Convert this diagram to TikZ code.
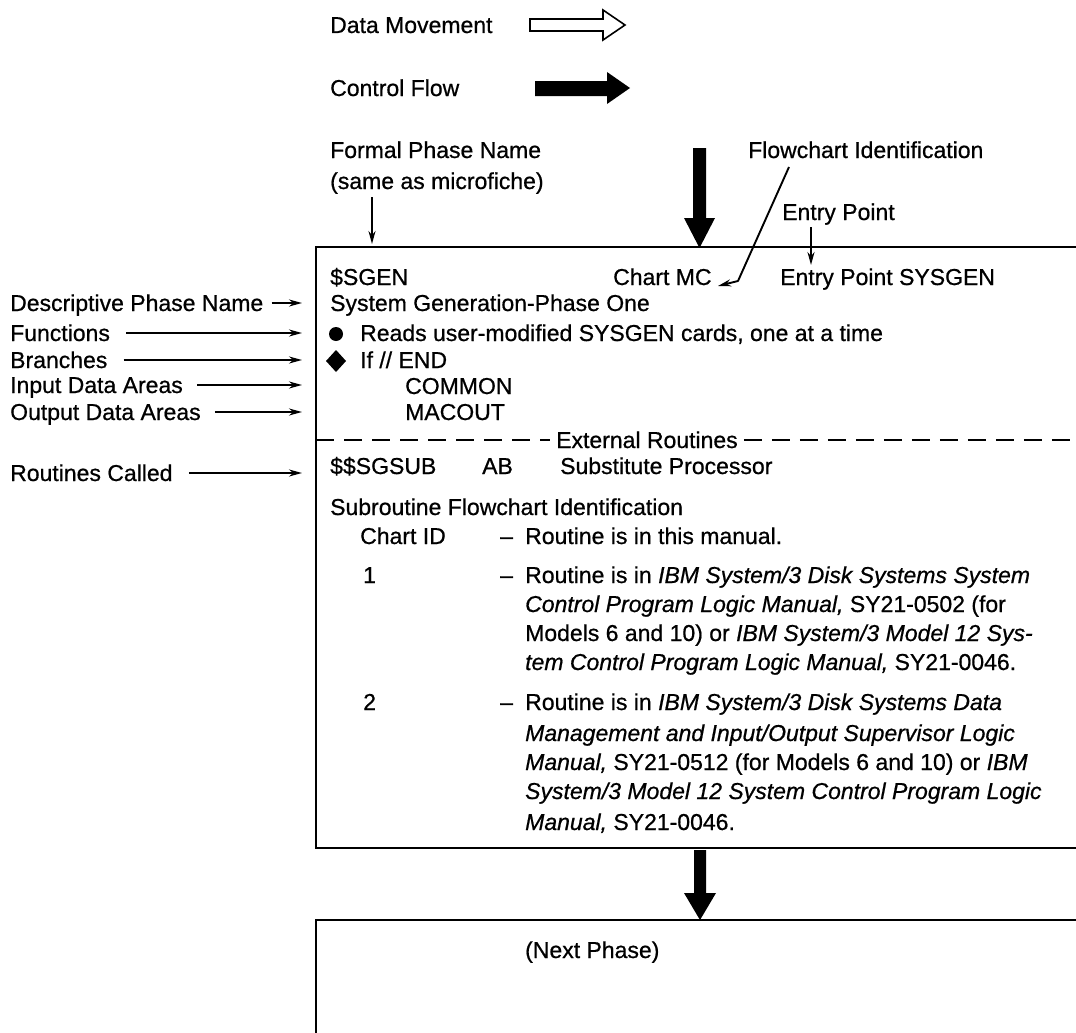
\documentclass[tikz,border=0pt]{standalone}
\usepackage{fontspec}
\setmainfont{Liberation Sans}[UprightFeatures={RawFeature={embolden=0.7}},ItalicFeatures={RawFeature={embolden=0.7}}]
\usetikzlibrary{arrows.meta}
\begin{document}
\begin{tikzpicture}[x=1pt,y=-1pt,
  txt/.style={anchor=base west, inner sep=0pt, font=\fontsize{23}{27}\selectfont},
  thinarrow/.style={line width=1.9pt, -{Stealth[length=13pt,width=7pt]}},
  boxline/.style={line width=2.4pt},
  ]
\useasboundingbox (0,0) rectangle (1076,1033);
% legend
\node[txt] (ldata) at (330,33) {Data Movement};
\node[txt] (lctrl) at (330,96) {Control Flow};
\draw[line width=1.6pt, line join=miter] (530,19) -- (603,19) -- (603,10) -- (625,25) -- (603,40) -- (603,31) -- (530,31) -- cycle;
\fill (535,81) -- (607,81) -- (607,72) -- (630,88) -- (607,104) -- (607,96) -- (535,96) -- cycle;
% top annotations
\node[txt] (formal) at (330,158) {Formal Phase Name};
\node[txt] (same) at (330,189) {(same as microfiche)};
\node[txt] (flowid) at (748,158) {Flowchart Identification};
\node[txt] (entry) at (782,220) {Entry Point};
% big control arrow into box
\fill (693,148) -- (706,148) -- (706,218) -- (715,218) -- (699.5,248) -- (684,218) -- (693,218) -- cycle;
% main box
\draw[boxline] (1076,247) -- (316,247) -- (316,848) -- (1076,848);
% box contents
\node[txt] (sgen) at (330,285) {\$SGEN};
\node[txt] (chartmc) at (613,285) {Chart MC};
\node[txt] (entrysys) at (780,285) {Entry Point SYSGEN};
\node[txt] (desc) at (330,311) {System Generation-Phase One};
\fill (336,334) circle (7);
\node[txt] (func) at (360,341) {Reads user-modified SYSGEN cards, one at a time};
\fill (336,350) -- (346,361) -- (336,372) -- (326,361) -- cycle;
\node[txt] (branch) at (360,368) {If // END};
\node[txt] (common) at (405,394) {COMMON};
\node[txt] (macout) at (405,420) {MACOUT};
% dashed separator
\node[txt] (extr) at (556,448) {External Routines};
\draw[line width=2pt, dash pattern=on 18pt off 10pt] (316,440) -- ([xshift=-6pt]extr.west |- 0,440);
\draw[line width=2pt, dash pattern=on 18pt off 10pt] ([xshift=6pt]extr.east |- 0,440) -- (1076,440);
\node[txt] (sgsub) at (330,474) {\$\$SGSUB};
\node[txt] (ab) at (482,474) {AB};
\node[txt] (subproc) at (560,474) {Substitute Processor};
\node[txt] (subfc) at (330,515) {Subroutine Flowchart Identification};
\node[txt] (chartid) at (360,544) {Chart ID};
\node[txt] (d0) at (500,544) {--};
\node[txt] (r0) at (525,544) {Routine is in this manual.};
\node[txt] (one) at (363,583) {1};
\node[txt] (d1) at (500,583) {--};
\node[txt] (r1a) at (525,583) {Routine is in \textit{IBM System/3 Disk Systems System}};
\node[txt] (r1b) at (525,612) {\textit{Control Program Logic Manual,} SY21-0502 (for};
\node[txt] (r1c) at (525,641) {Models 6 and 10) or \textit{IBM System/3 Model 12 Sys-}};
\node[txt] (r1d) at (525,670) {\textit{tem Control Program Logic Manual,} SY21-0046.};
\node[txt] (two) at (363,710) {2};
\node[txt] (d2) at (500,710) {--};
\node[txt] (r2a) at (525,710) {Routine is in \textit{IBM System/3 Disk Systems Data}};
\node[txt] (r2b) at (525,741) {\textit{Management and Input/Output Supervisor Logic}};
\node[txt] (r2c) at (525,770) {\textit{Manual,} SY21-0512 (for Models 6 and 10) or \textit{IBM}};
\node[txt] (r2d) at (525,799) {\textit{System/3 Model 12 System Control Program Logic}};
\node[txt] (r2e) at (525,830) {\textit{Manual,} SY21-0046.};
% arrow to next phase
\fill (694,850) -- (706,850) -- (706,893) -- (716,893) -- (700,920) -- (684,893) -- (694,893) -- cycle;
\draw[boxline] (1076,920) -- (316,920) -- (316,1033);
\node[txt] (next) at (525,958) {(Next Phase)};
% left labels
\node[txt] (ldesc) at (10,311) {Descriptive Phase Name};
\node[txt] (lfunc) at (10,341) {Functions};
\node[txt] (lbranch) at (10,368) {Branches};
\node[txt] (linput) at (10,393) {Input Data Areas};
\node[txt] (loutput) at (10,420) {Output Data Areas};
\node[txt] (lrout) at (10,481) {Routines Called};
\coordinate (edesc) at (302,303);
\coordinate (efunc) at (302,333);
\coordinate (ebranch) at (302,360);
\coordinate (einput) at (302,385);
\coordinate (eoutput) at (302,412);
\coordinate (erout) at (302,473);
\draw[thinarrow] ([xshift=8pt]ldesc.east |- edesc) -- (edesc);
\draw[thinarrow] ([xshift=16pt]lfunc.east |- efunc) -- (efunc);
\draw[thinarrow] ([xshift=16pt]lbranch.east |- ebranch) -- (ebranch);
\draw[thinarrow] ([xshift=14pt]linput.east |- einput) -- (einput);
\draw[thinarrow] ([xshift=14pt]loutput.east |- eoutput) -- (eoutput);
\draw[thinarrow] ([xshift=16pt]lrout.east |- erout) -- (erout);
% top pointers
\coordinate (fstart) at (372,197);
\coordinate (fend) at (372,244);
\draw[thinarrow] (fstart) -- (fend);
\coordinate (estart) at (811,227);
\coordinate (eend) at (811,265);
\draw[thinarrow] (estart) -- (eend);
\coordinate (fcstart) at (789,167);
\coordinate (fcbend) at (738,281);
\coordinate (fctip) at (718,286);
\draw[thinarrow, line join=round] (fcstart) -- (fcbend) -- (fctip);
\end{tikzpicture}
\end{document}
